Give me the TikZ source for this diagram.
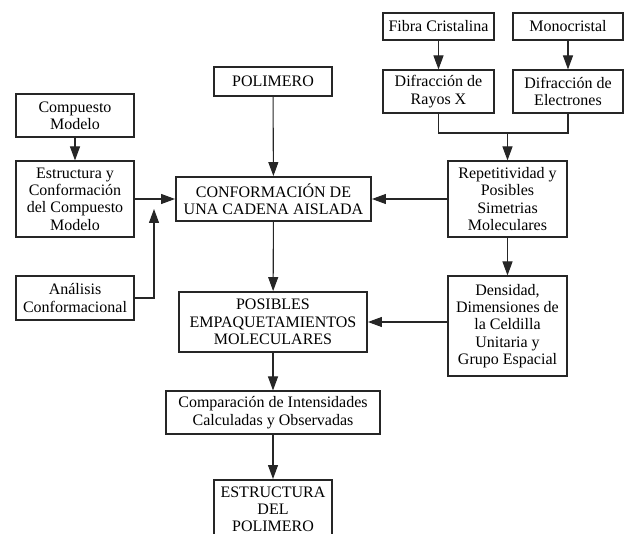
\documentclass[tikz,border=0pt]{standalone}
\usepackage{fontspec}
\setmainfont{Liberation Serif}
\usetikzlibrary{arrows.meta}
\begin{document}
\begin{tikzpicture}[x=1pt,y=-1pt,
  box/.style={draw=black!85,line width=1.1pt,inner sep=0pt,align=center,
    font=\fontsize{16}{17.4}\selectfont},
  thick box/.style={box,line width=1.9pt},
  arr/.style={draw=black!85,line width=1.1pt,-{Triangle[length=14pt,width=10pt]}},
  ln/.style={draw=black!85,line width=1.1pt}]
\clip (0,0) rectangle (624,534);
\node[box,minimum width=111,minimum height=27] (fibra) at (438.5,26.5) {Fibra Cristalina};
\node[box,minimum width=110,minimum height=27] (mono) at (568,26.5) {Monocristal};
\node[box,minimum width=111,minimum height=43] (rayos) at (438.5,91.5) {Difracción de\\Rayos X};
\node[box,minimum width=110,minimum height=43] (elec) at (568,91.5) {Difracción de\\Electrones};
\node[box,minimum width=119,minimum height=76] (repet) at (507.5,199) {Repetitividad y\\Posibles\\Simetrias\\Moleculares};
\node[box,minimum width=119,minimum height=100] (dens) at (507.5,326) {Densidad,\\Dimensiones de\\la Celdilla\\Unitaria y\\Grupo Espacial};
\node[box,minimum width=118,minimum height=29] (polim) at (273,81.5) {POLIMERO};
\node[thick box,minimum width=195,minimum height=44] (conf) at (273.5,199) {CONFORMACIÓN DE\\UNA CADENA AISLADA};
\node[box,minimum width=118,minimum height=43] (comp) at (75,115.5) {Compuesto\\Modelo};
\node[box,minimum width=118,minimum height=76] (estr) at (75,199) {Estructura y\\Conformación\\del Compuesto\\Modelo};
\node[box,minimum width=118,minimum height=44] (anal) at (75,298) {Análisis\\Conformacional};
\node[thick box,minimum width=188,minimum height=60] (posib) at (273,322) {POSIBLES\\EMPAQUETAMIENTOS\\MOLECULARES};
\node[box,minimum width=214,minimum height=43] (compar) at (273,412.5) {Comparación de Intensidades\\Calculadas y Observadas};
\node[thick box,minimum width=118,inner ysep=6.5pt,anchor=north] (estpol) at (273,479) {ESTRUCTURA\\DEL\\POLIMERO};
\coordinate (mrg) at (507.5,133);
\coordinate (up) at (154,209);
\draw[arr] (fibra) -- (rayos);
\draw[arr] (mono) -- (elec);
\draw[ln] (rayos.south) |- (mrg) -| (elec.south);
\draw[arr] (mrg) -- (repet.north);
\draw[arr] (repet.west) -- (conf.east);
\draw[arr] (repet) -- (dens);
\draw[arr] (dens.west |- posib.east) -- (posib.east);
\draw[arr] (polim) -- (conf);
\draw[arr] (comp) -- (estr);
\draw[arr] (estr.east) -- (conf.west);
\draw[arr] (anal.east) -| (up);
\draw[arr] (conf) -- (posib);
\draw[arr] (posib) -- (compar);
\draw[arr] (compar) -- (estpol);
\end{tikzpicture}
\end{document}
